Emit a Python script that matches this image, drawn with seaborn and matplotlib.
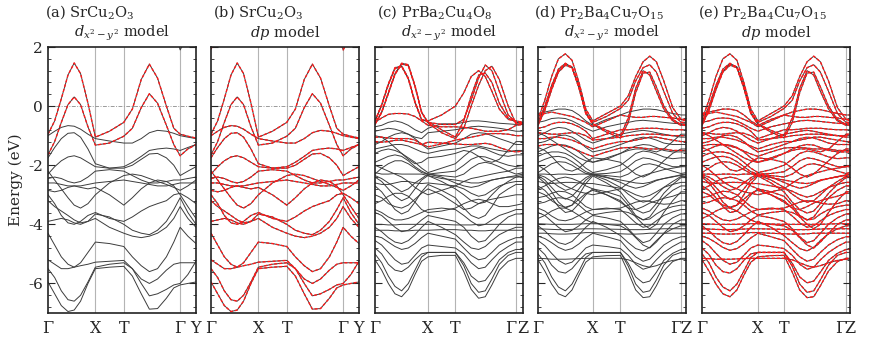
import pandas as pd
import matplotlib
matplotlib.use('Agg')
import matplotlib.pyplot as plt
from matplotlib.ticker import MultipleLocator
import seaborn as sns

sns.set_theme(style='ticks')
plt.rcParams['font.family'] = ['DejaVu Serif']
plt.rcParams['mathtext.fontset'] = 'dejavuserif'
plt.rcParams['axes.unicode_minus'] = False

# ---------------- SrCu2O3 (panels a, b) ----------------
k_sr = [0, .045, .09, .135, .177, .22, .27, .32, .415, .512, .57, .63, .685, .74, .80, .85, .893, .945, 1.0]
sym_sr = [0, .32, .512, .893, 1.0]
lab_sr = ['Γ', 'X', 'T', 'Γ', 'Y']

sr_top = [
    [-0.95, -0.5, 0.25, 1.05, 1.46, 1.1, 0.1, -1.05, -0.85, -0.55, -0.1, 0.9, 1.42, 0.95, 0.0, -0.75, -0.95, -1.02, -1.08],
    [-1.65, -1.2, -0.55, 0.05, 0.31, 0.05, -0.7, -1.32, -1.25, -1.02, -0.75, -0.05, 0.42, 0.1, -0.65, -1.3, -1.68, -1.45, -1.30],
]
sr_other = [
    [1.93, 2.4, 3, 3, 3, 3, 3, 3, 3, 3, 3, 3, 3, 3, 3, 2.6, 1.9, 2.4, 2.9],
    [-1.0, -0.85, -0.72, -0.66, -0.68, -0.78, -0.95, -1.1, -1.18, -1.25, -1.25, -1.1, -0.9, -0.82, -0.85, -0.92, -1.0, -1.05, -1.1],
    [-1.75, -1.4, -1.1, -0.92, -0.9, -1.05, -1.45, -1.95, -2.1, -2.05, -1.9, -1.7, -1.5, -1.45, -1.42, -1.45, -1.5, -1.4, -1.3],
    [-2.3, -2.05, -1.85, -1.72, -1.68, -1.75, -1.9, -2.05, -2.1, -2.1, -2.0, -1.8, -1.62, -1.6, -1.75, -2.0, -2.35, -2.2, -2.05],
    [-2.45, -2.4, -2.45, -2.55, -2.6, -2.55, -2.4, -2.2, -2.15, -2.2, -2.35, -2.5, -2.6, -2.6, -2.55, -2.5, -2.5, -2.45, -2.4],
    [-2.6, -2.6, -2.65, -2.7, -2.7, -2.7, -2.65, -2.6, -2.55, -2.5, -2.55, -2.6, -2.65, -2.7, -2.7, -2.65, -2.6, -2.6, -2.6],
    [-2.2, -2.5, -2.8, -3.1, -3.35, -3.45, -3.3, -3.0, -2.6, -2.35, -2.3, -2.35, -2.45, -2.55, -2.65, -2.75, -2.85, -2.7, -2.5],
    [-2.85, -2.9, -2.85, -2.75, -2.7, -2.75, -2.8, -2.75, -3.0, -3.35, -3.1, -2.8, -2.6, -2.5, -2.55, -2.7, -3.0, -3.4, -3.8],
    [-3.0, -3.3, -3.7, -3.95, -4.0, -3.9, -3.7, -3.6, -3.8, -3.9, -3.75, -3.55, -3.4, -3.3, -3.2, -3.0, -2.95, -3.1, -3.3],
    [-3.2, -3.4, -3.55, -3.7, -3.85, -3.95, -3.9, -3.65, -3.75, -4.0, -4.2, -4.3, -4.35, -4.2, -3.9, -3.5, -3.1, -3.6, -4.0],
    [-3.9, -3.85, -3.8, -3.85, -3.95, -4.0, -3.9, -3.8, -4.1, -4.3, -4.4, -4.45, -4.4, -4.3, -4.1, -3.8, -3.4, -3.8, -4.1],
    [-4.3, -4.7, -5.1, -5.35, -5.45, -5.3, -4.95, -4.6, -4.65, -4.75, -5.1, -5.4, -5.6, -5.5, -5.1, -4.6, -4.1, -4.4, -4.65],
    [-5.2, -5.35, -5.5, -5.5, -5.45, -5.4, -5.35, -5.28, -5.25, -5.22, -5.5, -6.0, -6.42, -6.35, -6.2, -6.05, -6.0, -5.7, -5.25],
    [-5.95, -6.35, -6.75, -6.95, -6.9, -6.6, -6.0, -5.5, -5.45, -5.42, -5.75, -6.35, -6.87, -6.85, -6.5, -6.15, -6.05, -6.0, -5.95],
    [-5.5, -5.8, -6.25, -6.55, -6.6, -6.4, -5.95, -5.45, -5.35, -5.3, -5.5, -5.85, -6.0, -5.85, -5.55, -5.35, -5.3, -5.3, -5.3],
]

# ---------------- PrBa2Cu4O8 (panel c) ----------------
k_c = [0, .045, .09, .135, .18, .225, .27, .315, .358, .45, .543, .6, .65, .7, .745, .79, .84, .9, .953, 1.0]
sym_c = [0, .358, .543, .953, 1.0]

c_red = [
    [-0.5, 0.05, 0.75, 1.3, 1.36, 0.95, 0.15, -0.45, -0.5, -0.3, 0.0, 0.45, 1.0, 1.2, 1.0, 0.5, -0.1, -0.45, -0.5, -0.55],
    [-0.6, -0.2, 0.45, 1.1, 1.45, 1.4, 0.7, -0.2, -0.55, -0.62, -0.62, -0.45, 0.2, 0.95, 1.39, 1.2, 0.5, -0.3, -0.55, -0.55],
    [-0.52, 0.03, 0.72, 1.27, 1.34, 0.92, 0.12, -0.47, -0.52, -0.8, -1.05, -0.5, 0.35, 1.05, 1.12, 0.8, 0.1, -0.4, -0.55, -0.58],
    [-0.62, -0.22, 0.42, 1.07, 1.42, 1.37, 0.67, -0.22, -0.57, -0.9, -1.1, -0.75, 0.0, 0.7, 1.2, 1.35, 0.9, 0.0, -0.6, -0.6],
    [-0.55, -0.4, -0.28, -0.25, -0.25, -0.27, -0.35, -0.5, -0.65, -0.7, -0.7, -0.72, -0.75, -0.8, -0.85, -0.85, -0.85, -0.8, -0.65, -0.62],
    [-1.05, -1.05, -1.08, -1.1, -1.1, -1.1, -1.15, -1.28, -1.38, -1.28, -1.15, -1.1, -1.05, -1.0, -0.95, -0.93, -0.93, -0.95, -1.0, -1.0],
    [-1.2, -1.22, -1.2, -1.16, -1.15, -1.2, -1.25, -1.3, -1.22, -1.25, -1.28, -1.3, -1.3, -1.28, -1.26, -1.3, -1.4, -1.5, -1.55, -1.52],
]
c_other = [
    [-0.7, -0.65, -0.55, -0.5, -0.55, -0.65, -0.8, -0.9, -0.75, -0.6, -0.6, -0.55, -0.5, -0.5, -0.52, -0.55, -0.58, -0.6, -0.62, -0.62],
    [-0.85, -0.8, -0.75, -0.78, -0.85, -0.95, -1.05, -1.1, -0.9, -0.85, -0.8, -0.75, -0.7, -0.68, -0.7, -0.72, -0.75, -0.8, -0.85, -0.85],
    [-1.3, -1.2, -1.05, -0.95, -0.9, -0.95, -1.1, -1.3, -1.45, -1.35, -1.25, -1.1, -0.95, -0.9, -0.92, -1.0, -1.1, -1.2, -1.3, -1.3],
    [-1.45, -1.4, -1.35, -1.3, -1.3, -1.35, -1.45, -1.55, -1.6, -1.5, -1.45, -1.4, -1.35, -1.35, -1.4, -1.45, -1.5, -1.55, -1.5, -1.5],
    [-1.6, -1.5, -1.45, -1.5, -1.6, -1.75, -1.9, -2.1, -2.25, -2.1, -1.95, -1.7, -1.5, -1.4, -1.45, -1.55, -1.65, -1.7, -1.65, -1.65],
    [-1.9, -1.8, -1.7, -1.65, -1.7, -1.85, -2.05, -2.2, -2.3, -2.25, -2.2, -2.0, -1.8, -1.7, -1.72, -1.8, -1.9, -2.0, -2.05, -2.0],
    [-2.3, -2.1, -1.95, -1.85, -1.85, -1.95, -2.1, -2.25, -2.3, -2.35, -2.4, -2.3, -2.1, -1.95, -1.9, -1.95, -2.05, -2.2, -2.3, -2.25],
    [-2.25, -2.3, -2.3, -2.28, -2.3, -2.3, -2.3, -2.3, -2.35, -2.45, -2.5, -2.55, -2.6, -2.6, -2.55, -2.5, -2.45, -2.4, -2.35, -2.3],
    [-2.35, -2.45, -2.6, -2.75, -2.9, -2.8, -2.6, -2.45, -2.3, -2.4, -2.6, -2.7, -2.75, -2.7, -2.6, -2.5, -2.45, -2.4, -2.4, -2.35],
    [-2.4, -2.55, -2.8, -3.05, -3.2, -3.1, -2.8, -2.5, -2.35, -2.55, -2.8, -3.0, -3.2, -3.3, -3.25, -3.0, -2.75, -2.55, -2.4, -2.4],
    [-2.6, -2.65, -2.65, -2.6, -2.55, -2.55, -2.6, -2.62, -2.6, -2.65, -2.7, -2.8, -2.95, -3.05, -3.0, -2.85, -2.7, -2.6, -2.55, -2.55],
    [-2.7, -2.9, -3.2, -3.5, -3.65, -3.55, -3.25, -2.9, -2.65, -2.85, -3.1, -3.45, -3.7, -3.8, -3.7, -3.4, -3.0, -2.8, -2.65, -2.65],
    [-3.0, -3.1, -3.3, -3.4, -3.45, -3.35, -3.15, -2.95, -2.8, -3.0, -3.3, -3.5, -3.45, -3.3, -3.2, -3.15, -3.1, -3.05, -3.0, -3.0],
    [-3.3, -3.2, -3.05, -2.95, -2.95, -3.05, -3.25, -3.5, -3.6, -3.55, -3.45, -3.3, -3.2, -3.15, -3.2, -3.3, -3.4, -3.4, -3.35, -3.3],
    [-3.5, -3.6, -3.75, -3.85, -3.85, -3.8, -3.7, -3.6, -3.5, -3.45, -3.5, -3.7, -3.9, -4.05, -4.0, -3.85, -3.7, -3.6, -3.5, -3.5],
    [-3.6, -3.7, -3.9, -4.1, -4.25, -4.2, -4.05, -3.85, -3.7, -3.8, -3.9, -4.1, -4.4, -4.6, -4.55, -4.3, -4.0, -3.75, -3.65, -3.65],
    [-4.0, -4.0, -4.02, -4.02, -4.0, -4.0, -4.0, -4.0, -4.0, -4.0, -4.02, -4.02, -4.02, -4.0, -4.0, -4.0, -4.0, -4.0, -4.0, -4.0],
    [-4.2, -4.2, -4.2, -4.22, -4.22, -4.22, -4.2, -4.2, -4.2, -4.18, -4.18, -4.2, -4.2, -4.22, -4.22, -4.2, -4.2, -4.2, -4.2, -4.2],
    [-4.1, -4.25, -4.45, -4.6, -4.65, -4.55, -4.35, -4.1, -3.9, -4.1, -4.35, -4.6, -4.8, -4.85, -4.75, -4.55, -4.35, -4.2, -4.1, -4.1],
    [-4.4, -4.45, -4.6, -4.75, -4.85, -4.8, -4.65, -4.45, -4.3, -4.4, -4.5, -4.8, -5.05, -5.2, -5.15, -4.95, -4.7, -4.55, -4.45, -4.45],
    [-4.55, -4.7, -4.95, -5.2, -5.35, -5.3, -5.05, -4.8, -4.7, -4.75, -4.8, -5.0, -5.3, -5.5, -5.45, -5.2, -4.95, -4.75, -4.6, -4.6],
    [-4.8, -5.0, -5.35, -5.55, -5.6, -5.45, -5.2, -5.0, -4.95, -4.95, -4.95, -5.3, -5.75, -5.95, -5.9, -5.6, -5.2, -4.95, -4.85, -4.85],
    [-5.0, -5.3, -5.75, -6.1, -6.25, -6.0, -5.55, -5.1, -4.95, -4.95, -4.95, -5.4, -6.0, -6.3, -6.25, -5.85, -5.35, -5.05, -4.95, -4.95],
    [-5.2, -5.55, -6.0, -6.35, -6.45, -6.2, -5.7, -5.25, -5.1, -5.05, -5.05, -5.6, -6.2, -6.5, -6.45, -6.05, -5.55, -5.25, -5.15, -5.15],
    [-1.0, -1.05, -1.2, -1.4, -1.6, -1.8, -1.95, -1.9, -1.75, -1.7, -1.6, -1.5, -1.55, -1.7, -1.85, -1.9, -1.8, -1.5, -1.2, -1.2],
    [-2.0, -2.1, -2.2, -2.3, -2.4, -2.55, -2.75, -2.9, -3.0, -2.85, -2.7, -2.55, -2.45, -2.4, -2.35, -2.3, -2.25, -2.2, -2.1, -2.1],
]

# ---------------- Pr2Ba4Cu7O15 (panels d, e) ----------------
k_d = [0, .046, .092, .138, .185, .23, .277, .323, .37, .463, .557, .61, .66, .71, .755, .80, .85, .91, .966, 1.0]
k_e = [0, .047, .094, .141, .189, .236, .283, .33, .378, .466, .554, .61, .66, .71, .755, .80, .855, .915, .973, 1.0]
sym_d = [0, .37, .557, .966, 1.0]
sym_e = [0, .378, .554, .973, 1.0]
lab_cz = ['Γ', 'X', 'T', 'Γ', 'Z']

d_red = [
    [-0.45, 0.2, 1.0, 1.6, 1.77, 1.55, 0.8, -0.1, -0.5, -0.25, 0.0, 0.35, 1.0, 1.5, 1.69, 1.5, 0.85, -0.05, -0.45, -0.5],
    [-0.55, 0.0, 0.7, 1.25, 1.45, 1.3, 0.6, -0.25, -0.55, -0.35, -0.08, 0.2, 0.85, 1.3, 1.4, 1.15, 0.5, -0.25, -0.55, -0.55],
    [-0.6, -0.08, 0.6, 1.18, 1.42, 1.33, 0.7, -0.2, -0.6, -0.82, -1.0, -0.4, 0.6, 1.2, 1.05, 0.5, -0.1, -0.5, -0.65, -0.65],
    [-0.65, -0.15, 0.55, 1.15, 1.38, 1.3, 0.65, -0.25, -0.62, -0.88, -1.08, -0.55, 0.45, 1.12, 1.15, 0.65, 0.0, -0.45, -0.62, -0.62],
    [-0.3, -0.25, -0.2, -0.25, -0.3, -0.35, -0.45, -0.55, -0.7, -0.5, -0.3, -0.35, -0.38, -0.38, -0.35, -0.35, -0.38, -0.4, -0.45, -0.45],
    [-0.75, -0.7, -0.6, -0.55, -0.55, -0.6, -0.7, -0.85, -1.1, -0.95, -0.8, -0.8, -0.78, -0.75, -0.75, -0.75, -0.78, -0.8, -0.8, -0.8],
    [-1.1, -1.1, -1.05, -1.05, -1.1, -1.15, -1.25, -1.35, -1.45, -1.3, -1.2, -1.2, -1.15, -1.1, -1.05, -1.05, -1.1, -1.15, -1.2, -1.2],
    [-1.35, -1.3, -1.3, -1.3, -1.35, -1.42, -1.52, -1.62, -1.7, -1.55, -1.42, -1.4, -1.4, -1.42, -1.45, -1.45, -1.45, -1.5, -1.5, -1.5],
    [-0.9, -0.92, -0.95, -0.95, -0.92, -0.9, -0.92, -1.0, -1.15, -1.1, -1.05, -1.0, -0.98, -0.95, -0.95, -0.95, -0.98, -1.0, -1.0, -1.0],
]
d_other = [
    [-0.25, -0.2, -0.15, -0.1, -0.1, -0.15, -0.3, -0.5, -0.65, -0.45, -0.3, -0.2, -0.15, -0.1, -0.1, -0.12, -0.18, -0.25, -0.3, -0.3],
    [-0.55, -0.5, -0.42, -0.4, -0.42, -0.5, -0.62, -0.75, -0.85, -0.7, -0.6, -0.55, -0.5, -0.48, -0.5, -0.52, -0.55, -0.58, -0.6, -0.6],
    [-1.0, -0.9, -0.78, -0.72, -0.75, -0.85, -1.0, -1.15, -1.25, -1.1, -0.95, -0.9, -0.85, -0.82, -0.85, -0.9, -0.95, -1.0, -1.05, -1.05],
    [-1.25, -1.2, -1.1, -1.0, -0.98, -1.05, -1.2, -1.4, -1.55, -1.45, -1.3, -1.2, -1.1, -1.05, -1.08, -1.15, -1.25, -1.3, -1.3, -1.3],
    [-1.55, -1.45, -1.35, -1.3, -1.32, -1.4, -1.55, -1.75, -1.9, -1.8, -1.6, -1.45, -1.35, -1.3, -1.32, -1.4, -1.5, -1.55, -1.55, -1.55],
    [-1.7, -1.6, -1.55, -1.55, -1.6, -1.72, -1.9, -2.1, -2.25, -2.15, -2.0, -1.8, -1.6, -1.52, -1.55, -1.62, -1.72, -1.78, -1.75, -1.75],
    [-1.9, -1.8, -1.72, -1.7, -1.75, -1.88, -2.05, -2.22, -2.3, -2.28, -2.22, -2.05, -1.85, -1.75, -1.78, -1.85, -1.95, -2.05, -2.05, -2.0],
    [-2.25, -2.1, -1.95, -1.88, -1.9, -2.0, -2.15, -2.28, -2.3, -2.35, -2.4, -2.3, -2.12, -1.98, -1.95, -2.0, -2.1, -2.2, -2.28, -2.25],
    [-2.3, -2.3, -2.32, -2.3, -2.3, -2.32, -2.3, -2.3, -2.32, -2.42, -2.5, -2.55, -2.6, -2.62, -2.58, -2.5, -2.45, -2.4, -2.32, -2.3],
    [-2.32, -2.4, -2.55, -2.72, -2.85, -2.78, -2.6, -2.42, -2.3, -2.4, -2.58, -2.7, -2.78, -2.72, -2.62, -2.52, -2.45, -2.38, -2.35, -2.32],
    [-2.35, -2.5, -2.75, -3.0, -3.15, -3.05, -2.8, -2.5, -2.33, -2.5, -2.75, -2.98, -3.15, -3.25, -3.2, -3.0, -2.75, -2.55, -2.38, -2.38],
    [-2.4, -2.6, -2.9, -3.25, -3.45, -3.35, -3.0, -2.62, -2.36, -2.6, -2.9, -3.25, -3.5, -3.62, -3.55, -3.3, -2.95, -2.65, -2.42, -2.42],
    [-2.55, -2.6, -2.62, -2.6, -2.58, -2.58, -2.6, -2.62, -2.62, -2.7, -2.78, -2.88, -3.0, -3.08, -3.02, -2.9, -2.75, -2.65, -2.58, -2.58],
    [-2.7, -2.85, -3.1, -3.4, -3.6, -3.55, -3.3, -3.0, -2.8, -2.9, -3.05, -3.35, -3.7, -3.85, -3.75, -3.45, -3.1, -2.85, -2.7, -2.7],
    [-2.9, -3.0, -3.2, -3.35, -3.42, -3.35, -3.15, -2.95, -2.85, -3.0, -3.25, -3.45, -3.5, -3.4, -3.28, -3.2, -3.12, -3.05, -2.95, -2.95],
    [-3.1, -3.05, -2.95, -2.88, -2.9, -3.0, -3.2, -3.4, -3.5, -3.48, -3.45, -3.35, -3.25, -3.2, -3.22, -3.28, -3.32, -3.3, -3.2, -3.2],
    [-3.3, -3.25, -3.15, -3.1, -3.12, -3.2, -3.35, -3.55, -3.68, -3.6, -3.55, -3.6, -3.72, -3.85, -3.82, -3.65, -3.5, -3.4, -3.35, -3.35],
    [-3.45, -3.55, -3.72, -3.85, -3.88, -3.82, -3.7, -3.58, -3.5, -3.45, -3.5, -3.72, -3.95, -4.1, -4.05, -3.88, -3.7, -3.58, -3.5, -3.5],
    [-3.6, -3.7, -3.9, -4.1, -4.25, -4.2, -4.05, -3.85, -3.7, -3.78, -3.9, -4.15, -4.42, -4.62, -4.55, -4.3, -4.0, -3.78, -3.65, -3.65],
    [-3.98, -3.99, -4.0, -4.0, -4.0, -4.0, -3.99, -3.98, -3.98, -3.99, -4.0, -4.0, -4.0, -4.0, -4.0, -4.0, -3.99, -3.98, -3.98, -3.98],
    [-4.15, -4.16, -4.17, -4.18, -4.18, -4.17, -4.16, -4.15, -4.15, -4.16, -4.17, -4.18, -4.18, -4.18, -4.17, -4.16, -4.15, -4.15, -4.15, -4.15],
    [-4.3, -4.3, -4.32, -4.33, -4.33, -4.32, -4.3, -4.28, -4.28, -4.3, -4.32, -4.33, -4.33, -4.32, -4.3, -4.3, -4.3, -4.3, -4.3, -4.3],
    [-4.05, -4.22, -4.45, -4.62, -4.68, -4.58, -4.35, -4.1, -3.9, -4.1, -4.38, -4.62, -4.82, -4.9, -4.78, -4.55, -4.32, -4.15, -4.05, -4.05],
    [-4.4, -4.48, -4.62, -4.78, -4.88, -4.82, -4.66, -4.46, -4.3, -4.42, -4.55, -4.85, -5.1, -5.25, -5.18, -4.95, -4.7, -4.52, -4.42, -4.42],
    [-4.55, -4.72, -4.98, -5.22, -5.35, -5.28, -5.05, -4.8, -4.7, -4.75, -4.82, -5.05, -5.35, -5.52, -5.45, -5.2, -4.95, -4.75, -4.6, -4.6],
    [-5.15, -5.16, -5.18, -5.18, -5.18, -5.17, -5.16, -5.15, -5.15, -5.15, -5.15, -5.2, -5.3, -5.4, -5.45, -5.4, -5.3, -5.22, -5.18, -5.18],
    [-4.8, -5.02, -5.38, -5.6, -5.65, -5.5, -5.22, -5.0, -4.95, -4.95, -4.95, -5.32, -5.78, -5.98, -5.92, -5.62, -5.22, -4.98, -4.85, -4.85],
    [-5.0, -5.3, -5.78, -6.12, -6.25, -6.02, -5.58, -5.12, -4.95, -4.95, -4.95, -5.42, -6.02, -6.3, -6.25, -5.88, -5.38, -5.05, -4.95, -4.95],
    [-5.2, -5.58, -6.02, -6.35, -6.45, -6.22, -5.72, -5.28, -5.1, -5.06, -5.05, -5.62, -6.22, -6.48, -6.45, -6.08, -5.58, -5.26, -5.15, -5.15],
    [-1.4, -1.5, -1.7, -1.95, -2.15, -2.2, -2.1, -1.9, -1.75, -1.8, -1.9, -2.1, -2.3, -2.4, -2.3, -2.1, -1.85, -1.6, -1.45, -1.45],
    [-2.0, -2.15, -2.35, -2.55, -2.7, -2.8, -2.9, -2.95, -3.0, -2.9, -2.8, -2.6, -2.45, -2.35, -2.28, -2.22, -2.15, -2.1, -2.05, -2.05],
    [-2.8, -2.7, -2.55, -2.45, -2.4, -2.45, -2.55, -2.7, -2.8, -3.0, -3.2, -3.45, -3.75, -4.0, -4.15, -4.0, -3.6, -3.2, -2.9, -2.9],
    [-3.8, -3.7, -3.55, -3.45, -3.45, -3.55, -3.7, -3.85, -3.95, -4.0, -4.05, -4.2, -4.45, -4.7, -4.8, -4.6, -4.3, -4.0, -3.85, -3.85],
    [-0.9, -1.0, -1.15, -1.3, -1.45, -1.6, -1.75, -1.85, -1.9, -1.75, -1.6, -1.5, -1.45, -1.45, -1.5, -1.55, -1.45, -1.2, -0.95, -0.95],
]

titles = ['(a) SrCu$_2$O$_3$', '(b) SrCu$_2$O$_3$', '(c) PrBa$_2$Cu$_4$O$_8$',
          '(d) Pr$_2$Ba$_4$Cu$_7$O$_{15}$', '(e) Pr$_2$Ba$_4$Cu$_7$O$_{15}$']
models = ['$d_{x^2-y^2}$ model', '$dp$ model', '$d_{x^2-y^2}$ model', '$d_{x^2-y^2}$ model', '$dp$ model']


def to_frame(k, bands):
    rows = []
    for b, band in enumerate(bands):
        for kk, e in zip(k, band):
            rows.append((b, kk, e))
    return pd.DataFrame(rows, columns=['band', 'k', 'E'])


panels = [
    (k_sr, sym_sr, lab_sr, sr_top + sr_other, sr_top),
    (k_sr, sym_sr, lab_sr, sr_top + sr_other, sr_top + sr_other),
    (k_c, sym_c, lab_cz, c_red + c_other, c_red),
    (k_d, sym_d, lab_cz, d_red + d_other, d_red),
    (k_e, sym_e, lab_cz, d_red + d_other, d_red + d_other),
]

fig = plt.figure(figsize=(8.72, 3.42), dpi=100)
lefts = [48, 211, 375, 538, 702]
title_x = [45, 213, 377, 534, 698]

for i, (k, sym, labs, black, red) in enumerate(panels):
    ax = fig.add_axes([lefts[i] / 872, 29 / 342, 148 / 872, 266 / 342])
    for xv in sym[1:-1]:
        ax.axvline(xv, color='#b4b4b4', lw=0.8, zorder=0)
    ax.axhline(0, color='#9a9a9a', lw=0.7, ls=(0, (4, 1.5, 1, 1.5)), zorder=0.5)

    sns.lineplot(data=to_frame(k, black), x='k', y='E', units='band', estimator=None,
                 sort=False, color='#3c3c3c', lw=0.7, ax=ax)
    sns.lineplot(data=to_frame(k, red), x='k', y='E', units='band', estimator=None,
                 sort=False, color='#ff1a1a', lw=1.0, ls=(0, (2.2, 1.4)), ax=ax)

    ax.set_xlim(0, 1)
    ax.set_ylim(-7, 2)
    ax.set_xlabel('')
    ax.set_ylabel('')
    ax.set_xticks(sym)
    ax.set_xticklabels(labs, fontsize=11.5)
    if labs[-1] == 'Z':
        ax.get_xticklabels()[3].set_ha('right')
    ax.tick_params(axis='x', length=0, pad=5)
    ax.yaxis.set_major_locator(MultipleLocator(2))
    ax.yaxis.set_minor_locator(MultipleLocator(0.4))
    ax.tick_params(axis='y', which='both', direction='in', left=True, right=True,
                   labelleft=(i == 0), labelsize=11)
    ax.tick_params(axis='y', which='major', length=5, width=0.8)
    ax.tick_params(axis='y', which='minor', length=2.5, width=0.6)
    for sp in ax.spines.values():
        sp.set_linewidth(1.2)
        sp.set_color('#222222')
    if i == 0:
        ax.set_ylabel('Energy (eV)', fontsize=11, labelpad=4)

    fig.text(title_x[i] / 872, 1 - 12 / 342, titles[i], fontsize=10.5, ha='left', va='center')
    fig.text((lefts[i] + 74) / 872, 1 - 33 / 342, models[i], fontsize=10.5, ha='center', va='center')

fig.savefig('out.png', dpi=100)
